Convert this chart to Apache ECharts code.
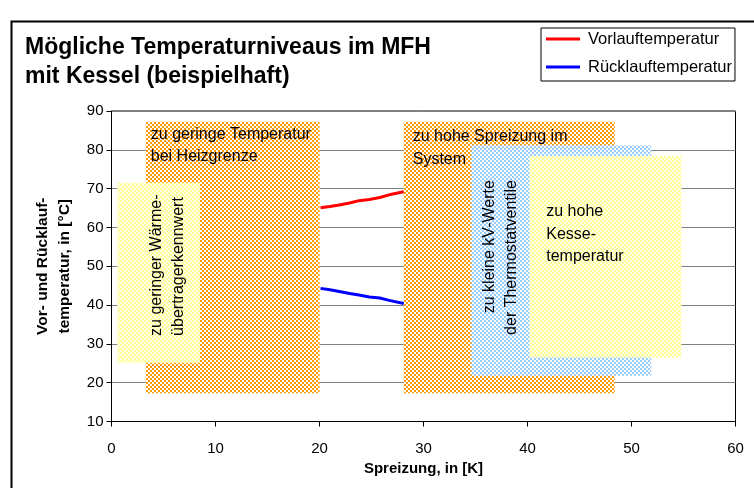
<!DOCTYPE html>
<html>
<head>
<meta charset="utf-8">
<script src="https://cdn.jsdelivr.net/npm/echarts@6/dist/echarts.min.js"></script>
<style>
  html, body { margin: 0; padding: 0; background: #fff; }
  #chart { width: 754px; height: 488px; }
</style>
</head>
<body>
<div id="chart"></div>
<script>
// Linien (Spreizung in K, Temperatur in °C)
const vorlaufX = [20.1, 21.0, 21.9, 22.9, 23.8, 24.8, 25.8, 26.7, 28.1]
const vorlaufY = [65.1, 65.4, 65.8, 66.3, 66.9, 67.2, 67.7, 68.4, 69.2]
const ruecklaufX = [20.1, 21.0, 21.9, 22.9, 23.8, 24.8, 25.8, 26.7, 28.1]
const ruecklaufY = [44.3, 43.95, 43.5, 43.0, 42.6, 42.1, 41.8, 41.2, 40.4]

// Problembereiche: [x von, x bis], [y von, y bis]
const regionX0 = [3.3, 0.55, 28.1, 34.6, 40.2]
const regionX1 = [20.0, 8.5, 48.4, 51.9, 54.8]
const regionY0 = [17.3, 25.1, 17.3, 21.8, 26.5]
const regionY1 = [87.2, 71.5, 87.2, 81.2, 78.4]
const regionText = [
  'zu geringe Temperatur\nbei Heizgrenze',
  'zu geringer Wärme-\nübertragerkennwert',
  'zu hohe Spreizung im\nSystem',
  'zu kleine kV-Werte\nder Thermostatventile',
  'zu hohe\nKesse-\ntemperatur',
]

function checker(c1, c2, size) {
  const cv = document.createElement('canvas')
  cv.width = cv.height = size * 2
  const ctx = cv.getContext('2d')
  ctx.fillStyle = c2
  ctx.fillRect(0, 0, size * 2, size * 2)
  ctx.fillStyle = c1
  ctx.fillRect(0, 0, size, size)
  ctx.fillRect(size, size, size, size)
  return { image: cv, repeat: 'repeat' }
}

const orange = checker('#ff9900', '#ffffff', 2)
const yellow = checker('#ffff99', '#ffffe6', 2)
const blue = checker('#99ccff', '#ffffff', 2)

// Darstellung der Bereiche (Füllung und Textlage relativ zum Rechteck)
const regionStyle = [
  { fill: orange, rotate: false, dx: 5, dy: 1.5, lh: 22 },
  { fill: yellow, rotate: true, align: 'left', dx: 28.6, dy: 27, lh: 21.6 },
  { fill: orange, rotate: false, dx: 9, dy: 3.5, lh: 23 },
  { fill: blue, rotate: true, align: 'right', dx: 7.5, dy: 35, lh: 21.7 },
  { fill: yellow, rotate: false, dx: 16.7, dy: 44.8, lh: 22.5 },
]

const FONT = '"Liberation Sans", Arial, sans-serif'

function renderRegion(params, api) {
  const i = params.dataIndex
  const p0 = api.coord([api.value(0), api.value(3)])
  const p1 = api.coord([api.value(2), api.value(1)])
  const s = regionStyle[i]
  const label = {
    type: 'text',
    style: {
      text: regionText[i],
      font: '16px ' + FONT,
      fill: '#000',
      align: s.rotate ? s.align : 'left',
      verticalAlign: 'top',
      lineHeight: s.lh,
    },
  }
  if (s.rotate) {
    label.x = p0[0] + s.dx
    label.y = s.align === 'left' ? p1[1] - s.dy : p0[1] + s.dy
    label.rotation = Math.PI / 2
  } else {
    label.x = p0[0] + s.dx
    label.y = p0[1] + s.dy
  }
  return {
    type: 'group',
    children: [
      {
        type: 'rect',
        shape: { x: p0[0], y: p0[1], width: p1[0] - p0[0], height: p1[1] - p0[1] },
        style: { fill: s.fill },
      },
      label,
    ],
  }
}

const chart = echarts.init(document.getElementById('chart'), null, { renderer: 'canvas' })

chart.setOption({
  backgroundColor: '#fff',
  animation: false,
  title: {
    text: 'Mögliche Temperaturniveaus im MFH\nmit Kessel (beispielhaft)',
    left: 20,
    top: 28.5,
    textStyle: { fontFamily: FONT, fontSize: 23, fontWeight: 'bold', color: '#000', lineHeight: 29 },
  },
  legend: {
    orient: 'vertical',
    left: 541,
    top: 28,
    padding: [2, 3, 5, 5],
    itemGap: 10,
    itemWidth: 34,
    itemHeight: 3,
    icon: 'rect',
    borderColor: '#000',
    borderWidth: 1,
    textStyle: { fontFamily: FONT, fontSize: 16.5, lineHeight: 18, color: '#000', padding: [0, 0, 0, 3] },
    data: ['Vorlauftemperatur', 'Rücklauftemperatur'],
  },
  grid: { left: 111.5, right: 18.5, top: 111, bottom: 66.5, show: true, borderColor: '#000', borderWidth: 1 },
  xAxis: {
    type: 'value',
    min: 0,
    max: 60,
    interval: 10,
    name: 'Spreizung, in [K]',
    nameLocation: 'middle',
    nameGap: 38,
    nameTextStyle: { fontFamily: FONT, fontSize: 15, fontWeight: 'bold', color: '#000' },
    axisLine: { lineStyle: { color: '#000', width: 1 } },
    axisTick: { show: true, length: 5, lineStyle: { color: '#000' } },
    axisLabel: { margin: 20, fontFamily: FONT, fontSize: 15, color: '#000' },
    splitLine: { show: false },
  },
  yAxis: {
    type: 'value',
    min: 10,
    max: 90,
    interval: 10,
    name: 'Vor- und Rücklauf-\ntemperatur, in [°C]',
    nameLocation: 'middle',
    nameRotate: 90,
    nameGap: 36,
    nameTextStyle: { fontFamily: FONT, fontSize: 15.5, fontWeight: 'bold', color: '#000', lineHeight: 22 },
    axisLine: { show: true, lineStyle: { color: '#000', width: 1 } },
    axisTick: { show: true, length: 5, lineStyle: { color: '#000' } },
    axisLabel: { margin: 8, fontFamily: FONT, fontSize: 15, color: '#000' },
    splitLine: { show: true, lineStyle: { color: '#808080', width: 1 } },
  },
  graphic: [
    {
      type: 'rect',
      left: 9,
      top: 19,
      shape: { width: 800, height: 500 },
      style: { fill: null, stroke: '#000', lineWidth: 2 },
      silent: true,
      z: 100,
    },
  ],
  series: [
    {
      type: 'custom',
      name: 'Bereiche',
      renderItem: renderRegion,
      data: regionX0.map((x0, i) => [x0, regionY0[i], regionX1[i], regionY1[i]]),
      encode: { x: [0, 2], y: [1, 3] },
      z: 2,
      silent: true,
    },
    {
      type: 'line',
      name: 'Vorlauftemperatur',
      data: vorlaufX.map((x, i) => [x, vorlaufY[i]]),
      symbol: 'none',
      lineStyle: { color: '#ff0000', width: 3 },
      itemStyle: { color: '#ff0000' },
      z: 3,
    },
    {
      type: 'line',
      name: 'Rücklauftemperatur',
      data: ruecklaufX.map((x, i) => [x, ruecklaufY[i]]),
      symbol: 'none',
      lineStyle: { color: '#0000ff', width: 3 },
      itemStyle: { color: '#0000ff' },
      z: 3,
    },
  ],
})
</script>
</body>
</html>
